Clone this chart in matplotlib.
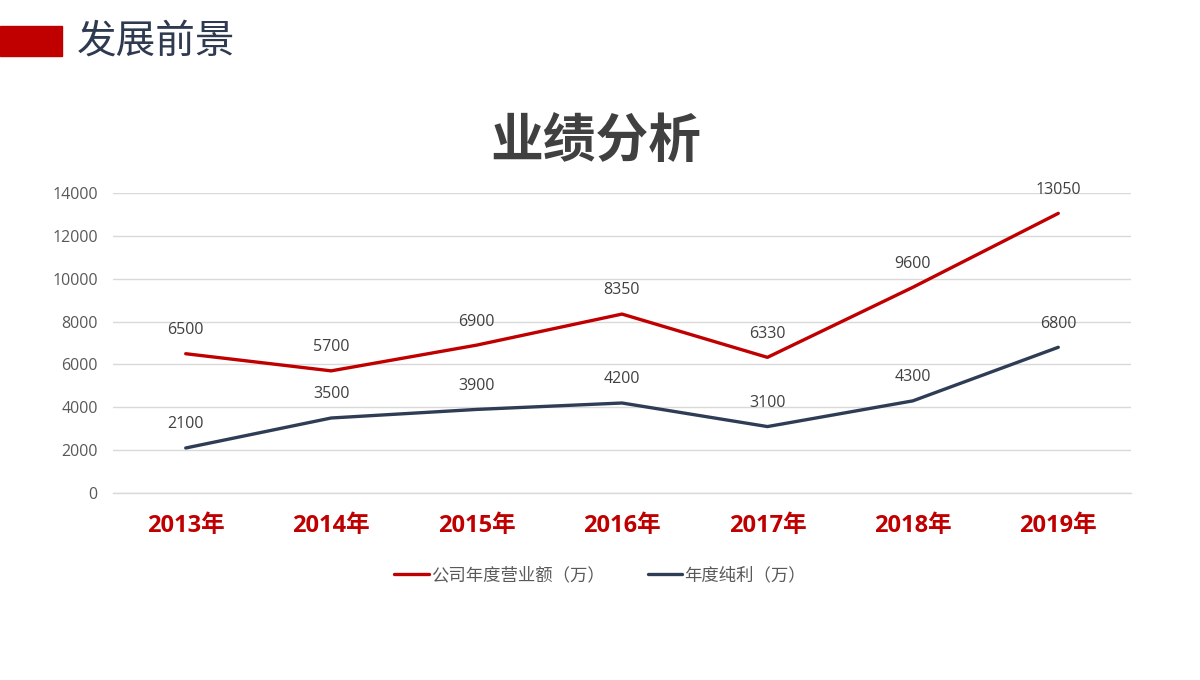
import matplotlib
matplotlib.use("Agg")
import matplotlib.pyplot as plt
from matplotlib.patches import Rectangle

plt.rcParams['font.family'] = ['Noto Sans CJK SC', 'DejaVu Sans']
NUMFONT = ['Open Sans', 'Noto Sans CJK SC', 'DejaVu Sans']

years = ['2013年', '2014年', '2015年', '2016年', '2017年', '2018年', '2019年']
revenue = [6500, 5700, 6900, 8350, 6330, 9600, 13050]
profit = [2100, 3500, 3900, 4200, 3100, 4300, 6800]
series_names = ['公司年度营业额（万）', '年度纯利（万）']
yticks = [0, 2000, 4000, 6000, 8000, 10000, 12000, 14000]

RED = '#C00000'
NAVY = '#2E3D55'
GRAY = '#595959'

fig = plt.figure(figsize=(12, 6.8), dpi=100)
ax = fig.add_axes([113/1200, 1-493/680, (1131-113)/1200, 300/680])

x = list(range(len(years)))
l1, = ax.plot(x, revenue, color=RED, lw=2.4, solid_capstyle='round', label=series_names[0])
l2, = ax.plot(x, profit, color=NAVY, lw=2.4, solid_capstyle='round', label=series_names[1])

for series in (revenue, profit):
    for xi, v in zip(x, series):
        ax.annotate(str(v), (xi, v), xytext=(0, 17), textcoords='offset points',
                    ha='center', va='center', fontsize=11.5, color='#404040',
                    family=NUMFONT)

ax.set_xlim(-0.5, len(years) - 0.5)
ax.set_ylim(0, 14000)
ax.set_yticks(yticks)
ax.set_yticklabels([str(t) for t in yticks], fontsize=11.5, color=GRAY, family=NUMFONT)
ax.set_xticks(x)
ax.set_xticklabels(years, fontsize=17, fontweight='bold', color=RED, family=NUMFONT)
ax.tick_params(axis='both', length=0)
ax.tick_params(axis='y', pad=11)
ax.tick_params(axis='x', pad=15)
ax.grid(axis='y', color='#D9D9D9', lw=1)
ax.axhline(0, color='#D9D9D9', lw=1, clip_on=False, zorder=0.5)
ax.set_axisbelow(True)
for s in ax.spines.values():
    s.set_visible(False)

leg = fig.legend(handles=[l1, l2], loc='center', bbox_to_anchor=(0.5, 1-575/680),
                 ncol=2, frameon=False, fontsize=12.5, handlelength=2.0,
                 handletextpad=0.1, columnspacing=2.5)
for t in leg.get_texts():
    t.set_color(GRAY)

fig.text(596/1200, 1-142/680, '业绩分析', ha='center', va='center',
         fontsize=38, fontweight='bold', color='#404040')

fig.patches.append(Rectangle((0, 1-56/680), 62/1200, 30/680,
                             transform=fig.transFigure, color=RED, zorder=5))
fig.text(77/1200, 1-42/680, '发展前景', ha='left', va='center',
         fontsize=28.5, color='#2E3A50')

fig.savefig('out.png', dpi=100, facecolor='white')
